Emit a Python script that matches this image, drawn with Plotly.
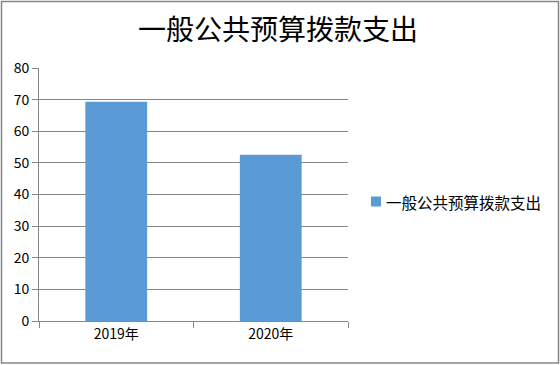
import plotly.graph_objects as go

categories = ["2019年", "2020年"]
values = [69.3, 52.6]
series_name = "一般公共预算拨款支出"
title_text = "一般公共预算拨款支出"

W, H = 560, 365
ml, mr, mt, mb = 39, 212, 68, 44
pw = W - ml - mr
ph = H - mt - mb

def px_x(x):
    return (x - ml) / pw

def px_y(y):
    return 1 - (y - mt) / ph

grid = "#868686"
bar_color = "#5B9BD5"
font_main = "Noto Sans CJK SC, sans-serif"

fig = go.Figure()
fig.add_trace(go.Bar(
    x=categories, y=values, name=series_name,
    marker=dict(color=bar_color, line=dict(width=0)),
    width=0.4, showlegend=False,
))

fig.update_layout(
    width=W, height=H,
    margin=dict(l=ml, r=mr, t=mt, b=mb),
    paper_bgcolor="white", plot_bgcolor="white",
    title=dict(text=title_text, x=278 / W, xref="container", xanchor="center",
               y=1 - 30 / H, yref="container", yanchor="middle",
               font=dict(family=font_main, size=28, color="black")),
    showlegend=False,
    font=dict(family=font_main, color="black"),
)

fig.update_xaxes(
    type="category", range=[-0.5, 1.5],
    showline=True, linecolor=grid, linewidth=1,
    ticks="outside", tickson="boundaries", ticklen=6, tickcolor=grid,
    showgrid=False, tickfont=dict(size=14, color="black"),
)
fig.update_yaxes(
    range=[0, 80], dtick=10,
    showline=True, linecolor=grid, linewidth=1,
    ticks="outside", ticklen=6, tickcolor=grid,
    showgrid=True, gridcolor=grid, gridwidth=1,
    zeroline=False, tickfont=dict(size=14, color="black"),
)

# custom legend (swatch + label)
fig.add_shape(type="rect", xref="paper", yref="paper",
              x0=px_x(371), x1=px_x(381), y0=px_y(206.5), y1=px_y(196.5),
              line=dict(width=0), fillcolor=bar_color)
fig.add_annotation(text=series_name, xref="paper", yref="paper",
                   x=px_x(384), y=px_y(201.5), xanchor="left", yanchor="middle",
                   showarrow=False, font=dict(family=font_main, size=15.5, color="black"))

fig.add_shape(type="rect", xref="paper", yref="paper",
              x0=px_x(1.5), x1=px_x(558.5), y0=px_y(363), y1=px_y(1.5),
              line=dict(color=grid, width=1.5), fillcolor="rgba(0,0,0,0)", layer="above")

fig.write_html("out.html")
